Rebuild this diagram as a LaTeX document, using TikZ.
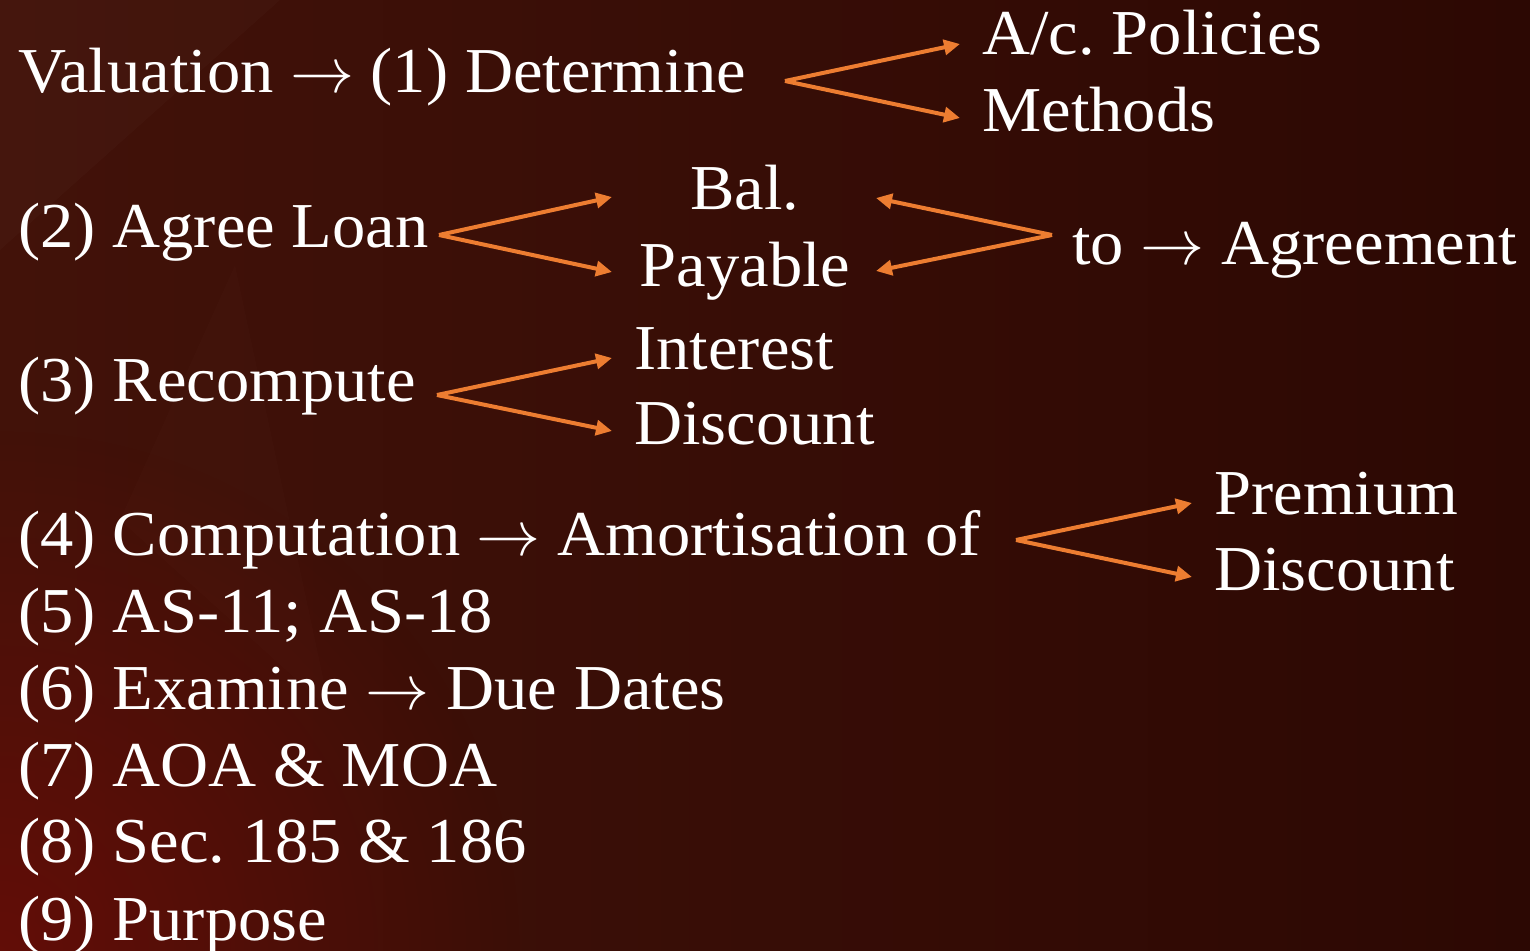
\documentclass[tikz,border=0pt]{standalone}
\usepackage{fix-cm}
\usepackage{fontspec}
\setmainfont[FakeStretch=1.04]{Liberation Serif}
\usetikzlibrary{arrows.meta,fadings}
\definecolor{bgleft}{RGB}{66,18,9}
\definecolor{bgright}{RGB}{44,8,3}
\definecolor{bgred}{RGB}{120,10,6}
\definecolor{arrorange}{RGB}{237,125,49}
\tikzfading[name=glow, inner color=transparent!0, outer color=transparent!100]
\tikzset{
  txt/.style={anchor=base west, inner sep=0pt, text=white, font=\fontsize{32}{38}\selectfont\frenchspacing},
  ctxt/.style={anchor=base, inner sep=0pt, text=white, font=\fontsize{32}{38}\selectfont\frenchspacing},
  fork/.style={draw=arrorange, line width=2pt, -{Triangle[length=8pt,width=7.5pt]}}
}
\begin{document}
\begin{tikzpicture}[x=0.5pt,y=-0.5pt]
% background
\useasboundingbox (0,0) rectangle (1530,951);
\shade[left color=bgleft, right color=bgright] (0,0) rectangle (1530,951);
\fill[bgred, opacity=0.6, path fading=glow] (0,951) circle (520);
\fill[white, opacity=0.018] (0,0) -- (280,0) -- (0,250) -- cycle;
\fill[white, opacity=0.012] (120,520) -- (235,265) -- (330,710) -- cycle;

% text lines
\node[txt] (l1) at (18,93) {Valuation $\rightarrow$ (1) Determine};
\node[txt] (pol) at (982,55) {A/c. Policies};
\node[txt] (meth) at (982,132) {Methods};

\node[txt] (l2) at (18,248) {(2) Agree Loan};
\node[ctxt] (bal) at (745,210) {Bal.};
\node[ctxt] (pay) at (745,287) {Payable};
\node[txt] (agr) at (1072,265) {to $\rightarrow$ Agreement};

\node[txt] (l3) at (18,402) {(3) Recompute};
\node[txt] (int) at (634,370) {Interest};
\node[txt] (dis) at (634,445) {Discount};

\node[txt] (l4) at (18,555) {(4) Computation $\rightarrow$ Amortisation of};
\node[txt] (prem) at (1214,515) {Premium};
\node[txt] (dis2) at (1214,590) {Discount};

\node[txt] (l5) at (18,632) {(5) AS-11; AS-18};
\node[txt] (l6) at (18,709) {(6) Examine $\rightarrow$ Due Dates};
\node[txt] (l7) at (18,786) {(7) AOA \& MOA};
\node[txt] (l8) at (18,862) {(8) Sec. 185 \& 186};
\node[txt] (l9) at (18,940) {(9) Purpose};

% fork points and arrow tips
\coordinate (f1) at (785,81);
\coordinate (t1a) at (960,44);
\coordinate (t1b) at (960,118);
\coordinate (f2) at (439,235);
\coordinate (t2a) at (612,197);
\coordinate (t2b) at (612,272);
\coordinate (f2r) at (1052,235);
\coordinate (t2c) at (876,198);
\coordinate (t2d) at (876,271);
\coordinate (f3) at (437,395);
\coordinate (t3a) at (612,358);
\coordinate (t3b) at (612,431);
\coordinate (f4) at (1016,540);
\coordinate (t4a) at (1192,503);
\coordinate (t4b) at (1192,577);

\draw[fork] (f1) -- (t1a);
\draw[fork] (f1) -- (t1b);
\draw[fork] (f2) -- (t2a);
\draw[fork] (f2) -- (t2b);
\draw[fork] (f2r) -- (t2c);
\draw[fork] (f2r) -- (t2d);
\draw[fork] (f3) -- (t3a);
\draw[fork] (f3) -- (t3b);
\draw[fork] (f4) -- (t4a);
\draw[fork] (f4) -- (t4b);
\end{tikzpicture}
\end{document}
